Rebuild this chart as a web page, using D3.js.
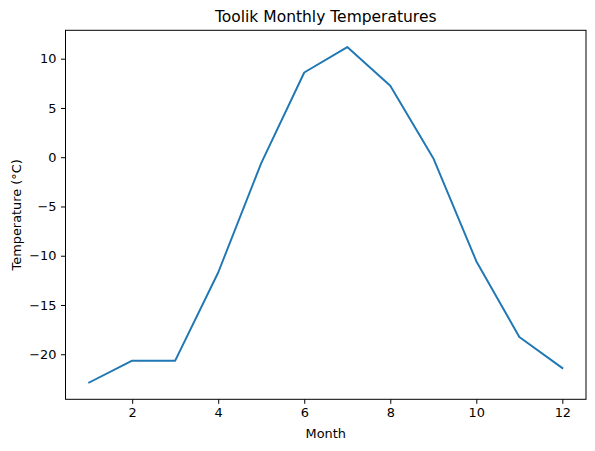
<html lang="en">
<head>
  <meta charset="UTF-8">
  <title>Toolik Monthly Temperatures</title>
  <script src="https://d3js.org/d3.v7.min.js"></script>
  <style>
    body { margin: 0; background: white; }
    svg text { font-family: "DejaVu Sans", sans-serif; fill: #000; }
  </style>
</head>
<body>
  <svg class="chart" width="595" height="451"></svg>
  <script>
    // monthly means
    const months = [1, 2, 3, 4, 5, 6, 7, 8, 9, 10, 11, 12];
    const temps = [-22.87, -20.65, -20.65, -11.7, -0.6, 8.6, 11.18, 7.25, -0.1, -10.55, -18.25, -21.4];
    const xTicks = [2, 4, 6, 8, 10, 12];
    const yTicks = [-20, -15, -10, -5, 0, 5, 10];

    const svg = d3.select('svg.chart');
    const plotLeft = 65.5, plotRight = 586, plotTop = 30.3, plotBottom = 399.3;

    // matplotlib-style 5% margins
    const xExt = d3.extent(months), yExt = d3.extent(temps);
    const xPad = (xExt[1] - xExt[0]) * 0.05, yPad = (yExt[1] - yExt[0]) * 0.05;
    const x = d3.scaleLinear().domain([xExt[0] - xPad, xExt[1] + xPad]).range([plotLeft, plotRight]);
    const y = d3.scaleLinear().domain([yExt[0] - yPad, yExt[1] + yPad]).range([plotBottom, plotTop]);

    const fmt = d => (d < 0 ? '\u2212' + Math.abs(d) : '' + d);

    const xAxis = svg.append('g')
      .attr('transform', `translate(0,${plotBottom})`)
      .call(d3.axisBottom(x).tickValues(xTicks).tickSize(4.5).tickPadding(4.5).tickFormat(fmt));
    const yAxis = svg.append('g')
      .attr('transform', `translate(${plotLeft},0)`)
      .call(d3.axisLeft(y).tickValues(yTicks).tickSize(4.5).tickPadding(4.5).tickFormat(fmt));

    [xAxis, yAxis].forEach(a => {
      a.select('.domain').remove();
      a.selectAll('.tick line').attr('stroke', '#000').attr('stroke-width', 1);
      a.selectAll('.tick text').style('font-size', '12.9px').attr('fill', '#000');
    });

    // line
    svg.append('path')
      .datum(months.map((m, i) => [m, temps[i]]))
      .attr('fill', 'none')
      .attr('stroke', '#1f77b4')
      .attr('stroke-width', 1.95)
      .attr('stroke-linejoin', 'round')
      .attr('stroke-linecap', 'square')
      .attr('d', d3.line().x(d => x(d[0])).y(d => y(d[1])));

    // frame
    svg.append('rect')
      .attr('x', plotLeft).attr('y', plotTop)
      .attr('width', plotRight - plotLeft).attr('height', plotBottom - plotTop)
      .attr('fill', 'none').attr('stroke', '#000').attr('stroke-width', 1);

    svg.append('text')
      .attr('x', (plotLeft + plotRight) / 2).attr('y', 21.5)
      .attr('text-anchor', 'middle').style('font-size', '15.5px')
      .text('Toolik Monthly Temperatures');

    svg.append('text')
      .attr('x', (plotLeft + plotRight) / 2).attr('y', 438)
      .attr('text-anchor', 'middle').style('font-size', '12.9px')
      .text('Month');

    svg.append('text')
      .attr('transform', `translate(20.5,${(plotTop + plotBottom) / 2}) rotate(-90)`)
      .attr('text-anchor', 'middle').style('font-size', '12.9px')
      .text('Temperature (°C)');
  </script>
</body>
</html>
